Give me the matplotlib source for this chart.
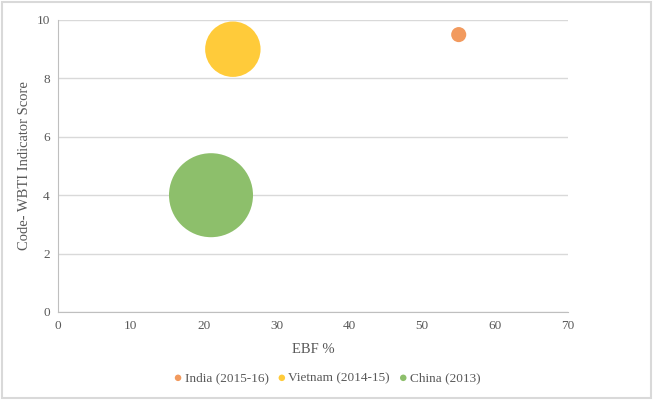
import numpy as np
import matplotlib.pyplot as plt
from matplotlib.patches import Rectangle

plt.rcParams['font.family'] = ['Liberation Serif', 'DejaVu Serif']

countries = ['India (2015-16)', 'Vietnam (2014-15)', 'China (2013)']
ebf = [55, 24, 21]
score = [9.5, 9, 4]
bubble = [2, 27, 62]
colors = ['#F29A5E', '#FFCB3A', '#8DBF6B']

fig = plt.figure(figsize=(6.53, 4.00), dpi=100)
ax = fig.add_axes([58 / 653, 1 - 312 / 400, 510 / 653, 292 / 400])

# bubble area proportional to size, largest radius ~42 px
max_r_pt = 42 * 0.72
scale = (2 * max_r_pt) ** 2 / max(bubble)
for c, x, y, b, col in zip(countries, ebf, score, bubble, colors):
    ax.scatter([x], [y], s=b * scale, color=col, edgecolors='none', label=c, zorder=3)

ax.set_xlim(0, 70)
ax.set_ylim(0, 10)
ax.set_xticks(np.arange(0, 71, 10))
ax.set_yticks(np.arange(0, 11, 2))
ax.grid(axis='y', color='#d9d9d9', lw=1)
ax.set_axisbelow(True)
for s in ['top', 'right']:
    ax.spines[s].set_visible(False)
for s in ['left', 'bottom']:
    ax.spines[s].set_color('#bfbfbf')
ax.tick_params(length=0, colors='#595959', labelsize=9.5, pad=6)
ax.set_xlabel('EBF %', fontsize=10.5, color='#595959', labelpad=8)
ax.set_ylabel('Code- WBTI Indicator Score', fontsize=10.5, color='#595959', labelpad=4)

leg = ax.legend(loc='upper center', bbox_to_anchor=(0.528, -0.165), ncol=3, frameon=False,
                fontsize=9.5, handlelength=0.6, handletextpad=0.2, columnspacing=0.7)
for h in leg.legend_handles:
    h.set_sizes([22])
for t in leg.get_texts():
    t.set_color('#595959')

fig.patches.append(Rectangle((2 / 653, 2 / 400), 649 / 653, 396 / 400, transform=fig.transFigure,
                             fill=False, edgecolor='#d9d9d9', lw=1.5))

fig.savefig('out.png', dpi=100)
